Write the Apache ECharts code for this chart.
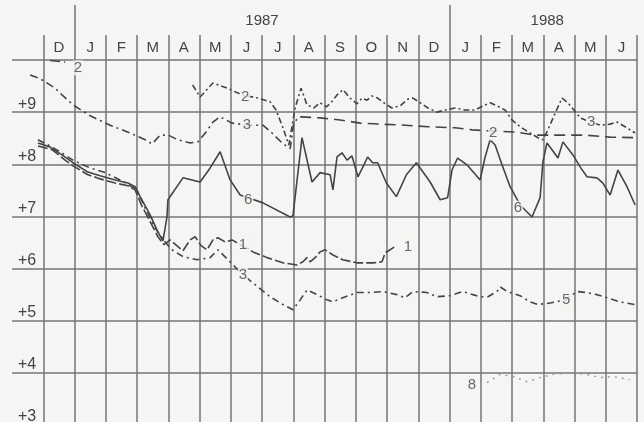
<!DOCTYPE html>
<html>
<head>
<meta charset="utf-8">
<script src="https://cdn.jsdelivr.net/npm/echarts@6/dist/echarts.min.js"></script>
<style>
  html, body { margin: 0; padding: 0; background: #f5f5f3; }
  #chart { width: 644px; height: 422px; }
</style>
</head>
<body>
<div id="chart"></div>
<script>
// month columns (first column is the blank margin left of D)
var months = ['', 'D', 'J', 'F', 'M', 'A', 'M', 'J', 'J', 'A', 'S', 'O', 'N', 'D', 'J', 'F', 'M', 'A', 'M', 'J'];
// year row, one entry per column boundary
var years = ['', '', '', '', '', '', '', '', '1987', '', '', '', '', '', '', '', '', '1988', '', '', ''];
var yearBreaks = [2, 14];

// x = months since start of Dec 1986, y = value
var s6 = [[-0.17,8.41],[0.22,8.33],[0.60,8.18],[0.95,8.03],[1.43,7.85],[1.82,7.78],[2.30,7.70],[2.71,7.64],[2.94,7.57],[3.10,7.38],[3.42,7.03],[3.67,6.70],[3.83,6.53],[3.96,6.99],[3.99,7.32],[4.47,7.74],[4.76,7.70],[5.02,7.66],[5.34,7.93],[5.66,8.24],[5.98,7.70],[6.30,7.41],[7.03,7.26],[7.90,6.99],[7.99,7.01],[8.28,8.51],[8.60,7.66],[8.86,7.84],[9.18,7.80],[9.27,7.51],[9.40,8.14],[9.56,8.22],[9.72,8.08],[9.88,8.16],[10.07,7.76],[10.23,7.95],[10.38,8.14],[10.54,8.03],[10.70,8.03],[10.98,7.64],[11.30,7.38],[11.62,7.80],[11.94,8.03],[12.38,7.66],[12.70,7.32],[12.94,7.36],[13.08,7.89],[13.26,8.12],[13.56,7.99],[13.98,7.70],[14.14,8.14],[14.30,8.47],[14.46,8.37],[14.68,7.99],[14.94,7.57],[15.26,7.22],[15.64,6.99],[15.90,7.36],[15.99,8.05],[16.12,8.41],[16.28,8.28],[16.47,8.12],[16.63,8.43],[16.95,8.18],[17.18,7.95],[17.40,7.76],[17.72,7.74],[17.91,7.64],[18.14,7.41],[18.39,7.89],[18.68,7.57],[18.94,7.22]];
var s1 = [[-0.17,8.35],[0.28,8.28],[0.70,8.08],[0.95,7.97],[1.43,7.80],[1.82,7.72],[2.30,7.64],[2.71,7.59],[2.94,7.51],[3.14,7.22],[3.42,6.90],[3.67,6.61],[3.86,6.46],[4.06,6.55],[4.31,6.42],[4.47,6.34],[4.70,6.55],[4.86,6.61],[5.05,6.44],[5.24,6.36],[5.43,6.55],[5.59,6.59],[5.82,6.51],[6.04,6.55],[6.71,6.32],[7.16,6.21],[7.67,6.11],[8.12,6.07],[8.31,6.13],[8.44,6.21],[8.54,6.13],[8.70,6.21],[8.86,6.32],[9.02,6.36],[9.27,6.26],[9.58,6.17],[10.04,6.11],[10.55,6.11],[10.84,6.13],[10.94,6.30],[11.25,6.42]];
var s5 = [[-0.17,8.47],[0.22,8.35],[0.54,8.24],[0.95,8.08],[1.50,7.93],[1.98,7.84],[2.46,7.70],[3.00,7.51],[3.26,7.16],[3.58,6.78],[3.90,6.51],[4.12,6.36],[4.47,6.23],[4.92,6.17],[5.34,6.21],[5.59,6.36],[5.91,6.17],[6.39,5.88],[6.78,5.69],[7.26,5.46],[7.67,5.31],[7.99,5.21],[8.22,5.40],[8.44,5.59],[8.76,5.50],[9.08,5.40],[9.27,5.36],[9.58,5.44],[10.04,5.54],[10.46,5.54],[10.87,5.56],[11.32,5.50],[11.58,5.44],[11.83,5.56],[12.28,5.54],[12.60,5.46],[13.02,5.48],[13.43,5.56],[13.75,5.50],[13.98,5.46],[14.23,5.46],[14.52,5.56],[14.62,5.65],[14.84,5.56],[15.26,5.48],[15.58,5.36],[15.83,5.31],[16.22,5.34],[16.70,5.40],[17.08,5.56],[17.40,5.54],[17.72,5.50],[18.04,5.44],[18.46,5.36],[18.94,5.31]];
var s2 = [[4.78,9.52],[5.02,9.29],[5.43,9.56],[5.88,9.46],[6.36,9.33],[6.87,9.27],[7.26,9.20],[7.45,9.04],[7.67,8.70],[7.86,8.37],[8.06,9.08],[8.25,9.46],[8.44,9.14],[8.66,9.08],[8.86,9.18],[9.06,9.10],[9.21,9.18],[9.40,9.33],[9.59,9.43],[9.82,9.27],[10.04,9.16],[10.20,9.27],[10.36,9.23],[10.52,9.31],[10.70,9.27],[10.94,9.16],[11.16,9.08],[11.42,9.12],[11.67,9.25],[11.83,9.27],[12.06,9.18],[12.31,9.08],[12.60,9.00],[12.86,9.04],[13.18,9.08],[13.50,9.04],[13.82,9.04],[14.07,9.12],[14.30,9.18],[14.52,9.12],[14.78,9.04],[15.00,8.85],[15.26,8.72],[15.58,8.60],[15.83,8.51],[15.99,8.47],[16.15,8.66],[16.38,8.98],[16.60,9.27],[16.79,9.18],[16.98,9.04],[17.18,8.89],[17.50,8.81],[17.82,8.75],[18.14,8.77],[18.36,8.81],[18.62,8.72],[18.94,8.60]];
var s2start = [[0.22,9.99],[0.70,9.96]];
var s2long = [[8.22,8.91],[8.86,8.89],[9.50,8.85],[10.14,8.79],[10.78,8.77],[11.58,8.75],[12.31,8.72],[13.18,8.70],[13.72,8.66],[14.30,8.64],[15.10,8.62],[15.74,8.56],[16.47,8.56],[17.34,8.56],[18.14,8.52],[19.00,8.51]];
var s3 = [[-0.42,9.71],[-0.10,9.64],[0.38,9.46],[0.60,9.33],[0.95,9.14],[1.50,8.93],[2.14,8.75],[2.78,8.60],[3.26,8.47],[3.48,8.39],[3.74,8.56],[4.00,8.56],[4.31,8.47],[4.70,8.41],[4.95,8.43],[5.21,8.62],[5.43,8.81],[5.66,8.91],[6.04,8.79],[6.55,8.75],[7.03,8.75],[7.32,8.60],[7.64,8.41],[7.90,8.30],[8.02,8.81],[8.22,8.91]];
var s8 = [[14.20,3.81],[14.62,3.97],[15.03,3.93],[15.48,3.83],[15.90,3.91],[16.31,3.97],[16.95,4.00],[17.40,3.97],[17.82,3.91],[18.23,3.93],[18.77,3.87]];
// curve numbers written on the chart
var curveLabels = [[1.11,9.85,'2'],[6.46,9.29,'2'],[6.52,8.75,'3'],[6.56,7.32,'6'],[6.39,6.46,'1'],[6.39,5.88,'3'],[11.67,6.42,'1'],[14.40,8.60,'2'],[15.19,7.16,'6'],[17.53,8.81,'3'],[16.73,5.40,'5'],[13.72,3.77,'8']];

var bg = '#f5f5f3';
var gridColor = '#747474';
var ink = '#444';
var font = 'Liberation Sans';

function lineSeries(data, type, color, width) {
    return {
        type: 'line', data: data, symbol: 'none', silent: true,
        lineStyle: { color: color || ink, width: width || 1.6, type: type }
    };
}

var series = [
    lineSeries(s6, 'solid'),
    lineSeries(s1, [10, 3]),
    lineSeries(s5, [7, 4, 2, 4]),
    lineSeries(s2, [6, 3, 2, 3]),
    lineSeries(s2start, [10, 4]),
    lineSeries(s2long, [11, 6]),
    lineSeries(s3, [8, 4, 2, 4]),
    lineSeries(s8, [2, 5], '#9a9a9a', 1.4),
    {
        type: 'scatter', data: curveLabels, symbolSize: 1, silent: true, z: 5,
        itemStyle: { color: 'rgba(0,0,0,0)' },
        label: {
            show: true, position: 'inside', color: '#444', fontFamily: font, fontSize: 15,
            backgroundColor: bg, padding: [0, 1],
            formatter: function (p) { return p.data[2]; }
        }
    }
];

var myChart = echarts.init(document.getElementById('chart'));
myChart.setOption({
    backgroundColor: bg,
    animation: false,
    grid: { left: 12, right: 7, top: 60, bottom: -3, outerBoundsMode: 'none', containLabel: false },
    xAxis: [
        {
            type: 'value', min: -1, max: 19, interval: 1, position: 'top',
            axisLine: { show: false }, axisTick: { show: false }, axisLabel: { show: false },
            splitLine: { show: true, showMinLine: false, showMaxLine: true, lineStyle: { color: gridColor, width: 1.5 } }
        },
        {
            type: 'category', data: months, position: 'top', boundaryGap: true,
            axisLine: { show: false }, splitLine: { show: false },
            axisTick: { show: true, length: 25, interval: function (i) { return i > 0; }, lineStyle: { color: gridColor, width: 1.5 } },
            axisLabel: { interval: 0, margin: 5, color: '#444', fontFamily: font, fontSize: 15 }
        },
        {
            type: 'category', data: years, position: 'top', boundaryGap: false,
            axisLine: { show: false }, splitLine: { show: false },
            axisTick: { show: true, length: 55, interval: function (i) { return yearBreaks.indexOf(i) >= 0; }, lineStyle: { color: gridColor, width: 1.5 } },
            axisLabel: {
                interval: function (i, v) { return v !== ''; }, margin: 32, color: '#444', fontFamily: font, fontSize: 15,
                formatter: function (v) { return v === '1988' ? '{r|' + v + '}' : v; },
                rich: { r: { padding: [0, 0, 0, 8], fontFamily: font, fontSize: 15, color: '#444' } }
            }
        }
    ],
    yAxis: {
        type: 'value', min: 3, max: 10, interval: 1,
        axisLine: { show: false }, axisTick: { show: false },
        splitLine: { show: true, showMinLine: true, showMaxLine: true, lineStyle: { color: gridColor, width: 1.5 } },
        axisLabel: {
            inside: true, margin: 6, verticalAlign: 'bottom', showMinLabel: true,
            color: '#444', fontFamily: font, fontSize: 16,
            formatter: function (v) { return v === 10 ? '' : '+' + v; }
        }
    },
    series: series
});
</script>
</body>
</html>
